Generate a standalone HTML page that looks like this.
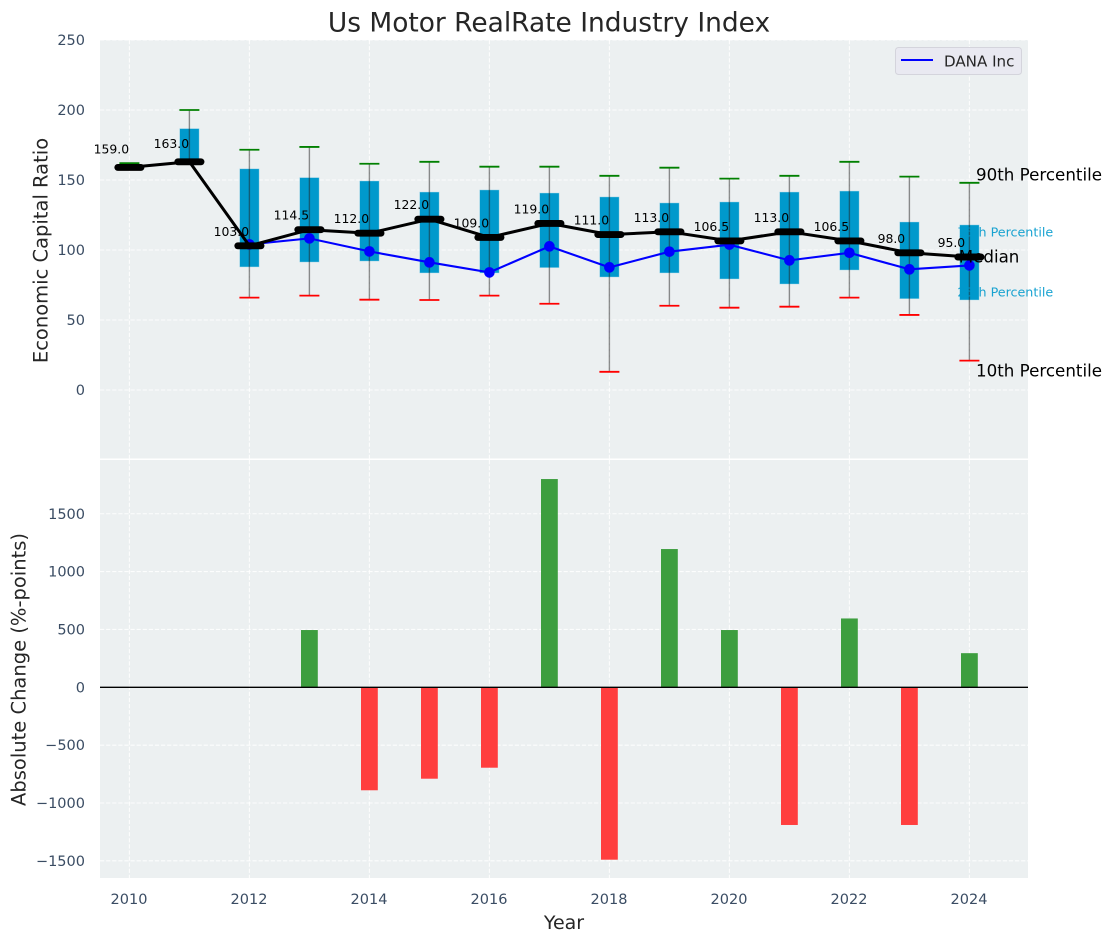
<!DOCTYPE html>
<html>
<head>
<meta charset="utf-8">
<title>Us Motor RealRate Industry Index</title>
<style>
html,body{margin:0;padding:0;background:#fff;}
svg{display:block;font-family:"DejaVu Sans","Liberation Sans",sans-serif;}
</style>
</head>
<body>
<svg id="chart" width="1111" height="942" viewBox="0 0 1111 942" xmlns="http://www.w3.org/2000/svg">
  <rect x="0" y="0" width="1111" height="942" fill="#ffffff"/>
  <text x="549" y="23" font-size="26.45" fill="#262626" text-anchor="middle" dominant-baseline="central">Us Motor RealRate Industry Index</text>
  <rect x="100" y="40" width="928" height="418.5" fill="#ecf0f1"/>
  <rect x="100" y="460" width="928" height="418" fill="#ecf0f1"/>
  <g id="grid"></g>
  <g id="top"></g>
  <g id="bottom"></g>
  <g id="ticks"></g>
  <text transform="translate(41,250.5) rotate(-90)" font-size="19.5" fill="#262626" text-anchor="middle" dominant-baseline="central">Economic Capital Ratio</text>
  <text transform="translate(19,669.5) rotate(-90)" font-size="19.5" fill="#262626" text-anchor="middle" dominant-baseline="central">Absolute Change (%-points)</text>
  <text x="564" y="923" font-size="19" fill="#262626" text-anchor="middle" dominant-baseline="central">Year</text>
  <g>
    <rect x="895.5" y="47.5" width="126" height="27" rx="3" fill="#e9e9f1" stroke="#d4d4dc" stroke-width="1"/>
    <line x1="901" y1="60" x2="933" y2="60" stroke="#0000ff" stroke-width="2"/>
    <text x="944" y="61.5" font-size="15.1" fill="#262626" dominant-baseline="central">DANA Inc</text>
  </g>
</svg>
<script>
const years = [2010,2011,2012,2013,2014,2015,2016,2017,2018,2019,2020,2021,2022,2023,2024];
const p90 = [162,200,171.6,173.6,161.6,163,159.5,159.5,153,158.8,151,153,163,152.4,148];
const p75 = [159,186.7,158,151.7,149.3,141.4,142.9,140.7,137.9,133.6,134.3,141.4,142.1,120,117.9];
const median = [159,163,103,114.5,112,122,109,119,111,113,106.5,113,106.5,98,95];
const p25 = [159,163,87.9,91.4,92.1,83.6,83.6,87.4,80.7,83.6,79.3,75.7,85.7,65.2,64.3];
const p10 = [159,163,66,67.4,64.5,64.3,67.4,61.6,13,60.2,58.8,59.5,66,53.6,21];
const company = [null,null,104,108.3,99,91.2,84,102.6,87.6,98.8,103.8,92.6,98,86.2,89];
const change = [0,0,0,495,-890,-790,-695,1800,-1490,1195,495,-1190,595,-1190,295];
const xTicks = [2010,2012,2014,2016,2018,2020,2022,2024];
const yTopTicks = [0,50,100,150,200,250];
const yBottomTicks = [-1500,-1000,-500,0,500,1000,1500];

const x = v => 129.4 + (v - 2010) * 60;
const yTop = v => 390 - v * 1.4;
const yBottom = v => 687.3 - v * 0.1157;

const NS = 'http://www.w3.org/2000/svg';
function make(parent, tag, props, text) {
  const el = document.createElementNS(NS, tag);
  for (const k in props) el.setAttribute(k, props[k]);
  if (text !== undefined) el.textContent = text;
  parent.appendChild(el);
  return el;
}
const grid = document.getElementById('grid');
const top_ = document.getElementById('top');
const bottom = document.getElementById('bottom');
const ticks = document.getElementById('ticks');
const gridStyle = {stroke:'#ffffff','stroke-width':1.1,'stroke-dasharray':'4.2 1.9','stroke-opacity':0.85};
const tickColor = '#3a4c63';

xTicks.forEach(t => {
  [[40,458.5],[460,878]].forEach((r,i) => {
    const g = make(grid,'line',Object.assign({x1:x(t),x2:x(t),y1:r[0],y2:r[1]},gridStyle));
    
    
  });
  const l = make(ticks,'text',{x:x(t)-0.4,y:900,'font-size':14.5,fill:tickColor,'text-anchor':'middle','dominant-baseline':'central'},String(t));
  
  
});
yTopTicks.forEach(t => {
  const g = make(grid,'line',Object.assign({x1:100,x2:1028,y1:yTop(t),y2:yTop(t)},gridStyle));
  
  
  const l = make(ticks,'text',{x:85,y:yTop(t)+1,'font-size':14.5,fill:tickColor,'text-anchor':'end','dominant-baseline':'central'},String(t));
  
  
});
yBottomTicks.forEach(t => {
  const g = make(grid,'line',Object.assign({x1:100,x2:1028,y1:yBottom(t),y2:yBottom(t)},gridStyle));
  
  
  const l = make(ticks,'text',{x:85,y:yBottom(t)+1,'font-size':14.5,fill:tickColor,'text-anchor':'end','dominant-baseline':'central'},String(t).replace('-','\u2212'));
  
  
});

/* boxes */
years.forEach((yr,i) => {
  const h = yTop(p25[i]) - yTop(p75[i]);
  if (h > 0) {
    const b = make(top_,'rect',{x:x(yr)-9.7,y:yTop(p75[i]),width:19.4,height:h,fill:'#0099cc',stroke:'#a9d9ea','stroke-width':0.6,'stroke-opacity':0.7});
    
    
  }
  const w = make(top_,'line',{x1:x(yr),x2:x(yr),y1:yTop(p90[i]),y2:yTop(p10[i]),stroke:'#222222','stroke-width':1.4,'stroke-opacity':0.5});
  
  
  const c1 = make(top_,'line',{x1:x(yr)-10,x2:x(yr)+10,y1:yTop(p90[i]),y2:yTop(p90[i]),stroke:'#008000','stroke-width':1.8});
  
  
  const c2 = make(top_,'line',{x1:x(yr)-10,x2:x(yr)+10,y1:yTop(p10[i]),y2:yTop(p10[i]),stroke:'#ff0000','stroke-width':1.8});
  
  
});

/* company series */
const companyPts = years.map((yr,i) => company[i] === null ? null : x(yr)+','+yTop(company[i])).filter(Boolean).join(' ');
const cl = make(top_,'polyline',{points:companyPts,fill:'none',stroke:'#0000ff','stroke-width':2.1});


years.forEach((yr,i) => {
  if (company[i] === null) return;
  const d = make(top_,'circle',{cx:x(yr),cy:yTop(company[i]),r:5.3,fill:'#0000ff'});
  
  
});

/* median series */
const ml = make(top_,'polyline',{points:years.map((yr,i)=>x(yr)+','+yTop(median[i])).join(' '),fill:'none',stroke:'#000000','stroke-width':3,'stroke-linejoin':'round'});


years.forEach((yr,i) => {
  const m = make(top_,'line',{x1:x(yr)-11.6,x2:x(yr)+11.6,y1:yTop(median[i]),y2:yTop(median[i]),stroke:'#000000','stroke-width':6.9,'stroke-linecap':'round'});
  
  
  const dy = median[i] > 150 ? -18.5 : -14.5;
  const t = make(top_,'text',{x:x(yr)-18,y:yTop(median[i])+dy,'font-size':12.4,fill:'#000000','text-anchor':'middle','dominant-baseline':'central'},median[i].toFixed(1));
  
  
});

/* percentile annotations, anchored on the last year */
const last = years.length - 1;
const lastX = x(years[last]);
const a90 = make(top_,'text',{x:lastX+6.6,y:yTop(p90[last])-8.5,'font-size':16.7,fill:'#000000','dominant-baseline':'central'},'90th Percentile');


const a75 = make(top_,'text',{x:lastX-12,y:yTop(p75[last])+7,'font-size':12.7,fill:'#0099cc','fill-opacity':0.9,'dominant-baseline':'central'},'75th Percentile');


const a50 = make(top_,'text',{x:lastX-10.7,y:yTop(median[last])-0.5,'font-size':16.7,fill:'#000000','dominant-baseline':'central'},'Median');


const a25 = make(top_,'text',{x:lastX-12,y:yTop(p25[last])-8,'font-size':12.7,fill:'#0099cc','fill-opacity':0.9,'dominant-baseline':'central'},'25th Percentile');


const a10 = make(top_,'text',{x:lastX+6.6,y:yTop(p10[last])+9.9,'font-size':16.7,fill:'#000000','dominant-baseline':'central'},'10th Percentile');



/* change bars */
years.forEach((yr,i) => {
  if (!change[i]) return;
  const y0 = yBottom(Math.max(change[i],0));
  const y1 = yBottom(Math.min(change[i],0));
  const b = make(bottom,'rect',{x:x(yr)-8.4,y:y0,width:16.8,height:y1-y0,fill:change[i]>0?'#3d9e3f':'#ff3e3e'});
  
  
});
const zero = make(bottom,'line',{x1:100,x2:1028,y1:yBottom(0),y2:yBottom(0),stroke:'#000000','stroke-width':1.3});


</script>
</body>
</html>
